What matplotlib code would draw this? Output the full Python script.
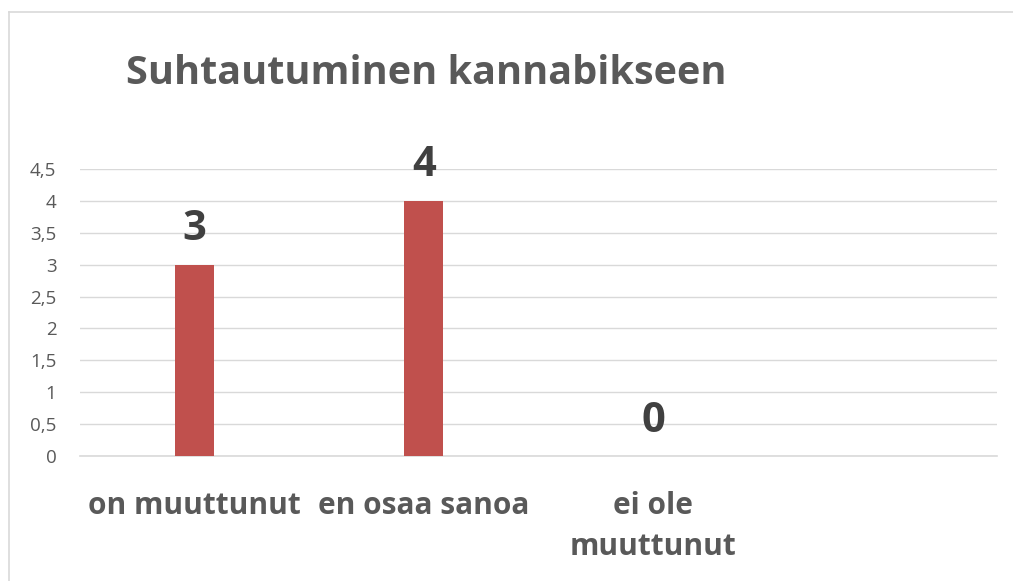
import matplotlib.pyplot as plt
from matplotlib.lines import Line2D

categories = ["on muuttunut", "en osaa sanoa", "ei ole\nmuuttunut", ""]
values = [3, 4, 0, None]
yticks = [0, 0.5, 1, 1.5, 2, 2.5, 3, 3.5, 4, 4.5]

plt.rcParams['font.family'] = ['Open Sans', 'DejaVu Sans']
grey = '#595959'

fig = plt.figure(figsize=(10.13, 5.81), dpi=100)
ax = fig.add_axes([80 / 1013, 1 - 456 / 581, 917 / 1013, 287 / 581])

x = list(range(len(categories)))
shown = [v if v is not None else 0 for v in values]
bars = ax.bar(x, shown, width=0.17, color='#C0504D', zorder=3)

# data labels above the bars
for xi, v in zip(x, values):
    if v is None:
        continue
    ax.annotate(str(v), (xi, v), xytext=(0, 17.6), textcoords='offset points',
                ha='center', va='baseline', fontsize=30, fontweight='bold',
                color='#404040')

ax.set_xlim(-0.5, len(categories) - 0.5)
ax.set_ylim(0, 4.5)
ax.set_yticks(yticks)
ax.set_yticklabels([f"{t:g}".replace('.', ',') for t in yticks],
                   fontsize=13.5, color=grey)
ax.set_xticks(x)
ax.set_xticklabels(categories, fontsize=21.5, fontweight='bold', color=grey,
                   linespacing=1.5)
ax.tick_params(axis='y', length=0, pad=17)
ax.tick_params(axis='x', length=0, pad=25)
ax.grid(axis='y', color='#D9D9D9', linewidth=1, zorder=0)
for s in ['left', 'right', 'top']:
    ax.spines[s].set_visible(False)
ax.spines['bottom'].set_color('#D9D9D9')
ax.spines['bottom'].set_linewidth(1.2)

fig.text(426 / 1013, 1 - 84 / 581, "Suhtautuminen kannabikseen",
         ha='center', va='baseline', fontsize=28.5, fontweight='bold', color=grey)

# outer chart border (cropped at right and bottom)
fig.add_artist(Line2D([8.5 / 1013, 8.5 / 1013], [0, 1 - 12 / 581],
                      transform=fig.transFigure, color='#D9D9D9', linewidth=1.2))
fig.add_artist(Line2D([8.5 / 1013, 1], [1 - 12 / 581, 1 - 12 / 581],
                      transform=fig.transFigure, color='#D9D9D9', linewidth=1.2))

fig.savefig('out.png', dpi=100)
